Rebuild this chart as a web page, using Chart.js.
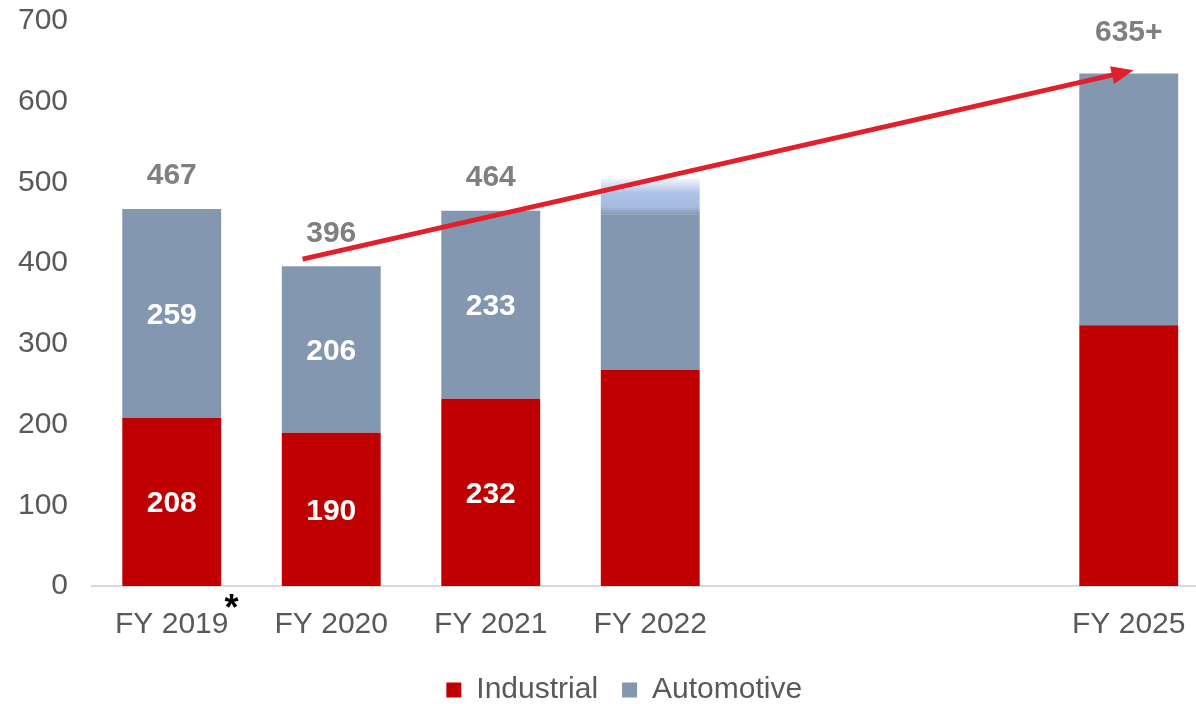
<!DOCTYPE html>
<html>
<head>
<meta charset="utf-8">
<script src="https://cdn.jsdelivr.net/npm/chart.js@4.4.1/dist/chart.umd.min.js"></script>
<style>
  html, body { margin: 0; padding: 0; background: #ffffff; overflow: hidden; }
  #wrap { width: 1196px; height: 704px; overflow: hidden; position: relative; }
  canvas { display: block; }
</style>
</head>
<body>
<div id="wrap"><canvas id="chart" width="1212" height="715"></canvas></div>
<script>
// Revenue by segment, fiscal years (FY 2023 / FY 2024 slots left open)
const categories = ['FY 2019', 'FY 2020', 'FY 2021', 'FY 2022', '', '', 'FY 2025'];
const industrial = [208, 190, 232, 268, null, null, 323];
const automotive = [259, 206, 233, 192, null, null, 312];
const automotiveOutlook = [null, null, null, 45, null, null, null];
const totalLabels = ['467', '396', '464', '', '', '', '635+'];
const segmentLabelled = [true, true, true, false, false, false, false];
const yTickValues = [0, 100, 200, 300, 400, 500, 600, 700];
// growth arrow from FY 2020 towards the FY 2025 target (category index, value)
const trendArrow = { from: { index: 0.82, value: 405 }, to: { index: 6.03, value: 639 } };

const FONT = "'Liberation Sans', Arial, sans-serif";
const RED = '#C00000';
const BLUE = '#8497B0';
const ARROW_RED = '#E1202B';

function outlookFill(ctx) {
  const chart = ctx.chart;
  const y = chart.scales && chart.scales.y;
  if (!chart.chartArea || !y) return '#AEC2E8';
  const i = automotiveOutlook.findIndex(v => v !== null);
  const base = industrial[i] + automotive[i];
  const top = base + automotiveOutlook[i];
  const g = chart.ctx.createLinearGradient(0, y.getPixelForValue(base), 0, y.getPixelForValue(top));
  g.addColorStop(0, BLUE);
  g.addColorStop(0.22, '#A6BBE0');
  g.addColorStop(0.6, '#AFC3E8');
  g.addColorStop(0.8, '#D2DDF1');
  g.addColorStop(1, '#F3F6FB');
  return g;
}

const annotations = {
  id: 'annotations',
  afterLayout(chart) {
    // centre the legend row under the plotted bars rather than the whole canvas
    if (chart.legend) chart.legend.left += 40;
  },
  afterDatasetsDraw(chart) {
    const { ctx, scales } = chart;
    const xs = scales.x, ys = scales.y;
    ctx.save();

    // values inside the stacked segments
    ctx.font = `bold 30px ${FONT}`;
    ctx.fillStyle = '#FFFFFF';
    ctx.textAlign = 'center';
    ctx.textBaseline = 'middle';
    [0, 1].forEach(d => {
      const meta = chart.getDatasetMeta(d);
      const values = chart.data.datasets[d].data;
      meta.data.forEach((el, i) => {
        if (!segmentLabelled[i] || values[i] == null) return;
        ctx.fillText(String(values[i]), el.x, (el.y + el.base) / 2 + 2);
      });
    });

    // totals above the bars
    ctx.fillStyle = '#7F7F7F';
    const autoMeta = chart.getDatasetMeta(1);
    totalLabels.forEach((t, i) => {
      if (!t) return;
      const el = autoMeta.data[i];
      const lift = i === Math.round(trendArrow.to.index) ? 41 : 33;
      ctx.fillText(t, el.x, el.y - lift);
    });

    // growth arrow
    const step = xs.getPixelForValue(1) - xs.getPixelForValue(0);
    const px = idx => xs.getPixelForValue(Math.floor(idx)) + (idx - Math.floor(idx)) * step;
    const x1 = px(trendArrow.from.index), y1 = ys.getPixelForValue(trendArrow.from.value);
    const x2 = px(trendArrow.to.index), y2 = ys.getPixelForValue(trendArrow.to.value);
    const ang = Math.atan2(y2 - y1, x2 - x1);
    const headLen = 22, headHalf = 9;
    const bx = x2 - headLen * Math.cos(ang), by = y2 - headLen * Math.sin(ang);
    ctx.strokeStyle = ARROW_RED;
    ctx.lineWidth = 5;
    ctx.lineCap = 'butt';
    ctx.beginPath();
    ctx.moveTo(x1, y1);
    ctx.lineTo(bx + 2 * Math.cos(ang), by + 2 * Math.sin(ang));
    ctx.stroke();
    ctx.fillStyle = ARROW_RED;
    ctx.beginPath();
    ctx.moveTo(x2, y2);
    ctx.lineTo(bx + headHalf * Math.sin(ang), by - headHalf * Math.cos(ang));
    ctx.lineTo(bx - headHalf * Math.sin(ang), by + headHalf * Math.cos(ang));
    ctx.closePath();
    ctx.fill();
    ctx.restore();
  },
  afterDraw(chart) {
    // footnote mark on the first fiscal year
    const { ctx, scales } = chart;
    const xs = scales.x;
    ctx.save();
    ctx.font = `30px ${FONT}`;
    const w = ctx.measureText(categories[0]).width;
    const x = xs.getPixelForValue(0) + w / 2 + 3;
    ctx.font = `bold 36px ${FONT}`;
    ctx.fillStyle = '#000000';
    ctx.textAlign = 'center';
    ctx.textBaseline = 'alphabetic';
    ctx.fillText('*', x, chart.chartArea.bottom + 34);
    ctx.restore();
  }
};

new Chart(document.getElementById('chart'), {
  type: 'bar',
  data: {
    labels: categories,
    datasets: [
      { label: 'Industrial', data: industrial, backgroundColor: RED, stack: 's' },
      { label: 'Automotive', data: automotive, backgroundColor: BLUE, stack: 's' },
      { label: 'Automotive outlook', data: automotiveOutlook, backgroundColor: outlookFill, stack: 's' }
    ]
  },
  options: {
    responsive: false,
    animation: false,
    devicePixelRatio: 1,
    datasets: { bar: { barPercentage: 0.62, categoryPercentage: 1, borderWidth: 0 } },
    layout: { padding: { top: 21, left: 0, right: 3.5, bottom: 0 } },
    plugins: {
      legend: {
        position: 'bottom',
        labels: {
          boxWidth: 15,
          boxHeight: 15,
          padding: 24,
          color: '#595959',
          font: { family: FONT, size: 30 },
          filter: item => item.datasetIndex < 2
        }
      },
      tooltip: { enabled: false }
    },
    scales: {
      x: {
        stacked: true,
        grid: { display: false },
        border: { display: true, color: '#D9D9D9', width: 2 },
        ticks: { color: '#595959', font: { family: FONT, size: 30 }, padding: 13, maxRotation: 0, autoSkip: false },
        afterFit: s => { s.height = 65; }
      },
      y: {
        stacked: true,
        min: 0,
        max: 700,
        grid: { display: false },
        border: { display: false },
        afterBuildTicks: s => { s.ticks = yTickValues.map(v => ({ value: v })); },
        ticks: { color: '#595959', font: { family: FONT, size: 30 }, padding: 16 },
        afterFit: s => { s.width = 92; s.paddingTop = 0; s.paddingBottom = 0; }
      }
    }
  },
  plugins: [annotations]
});
</script>
</body>
</html>
